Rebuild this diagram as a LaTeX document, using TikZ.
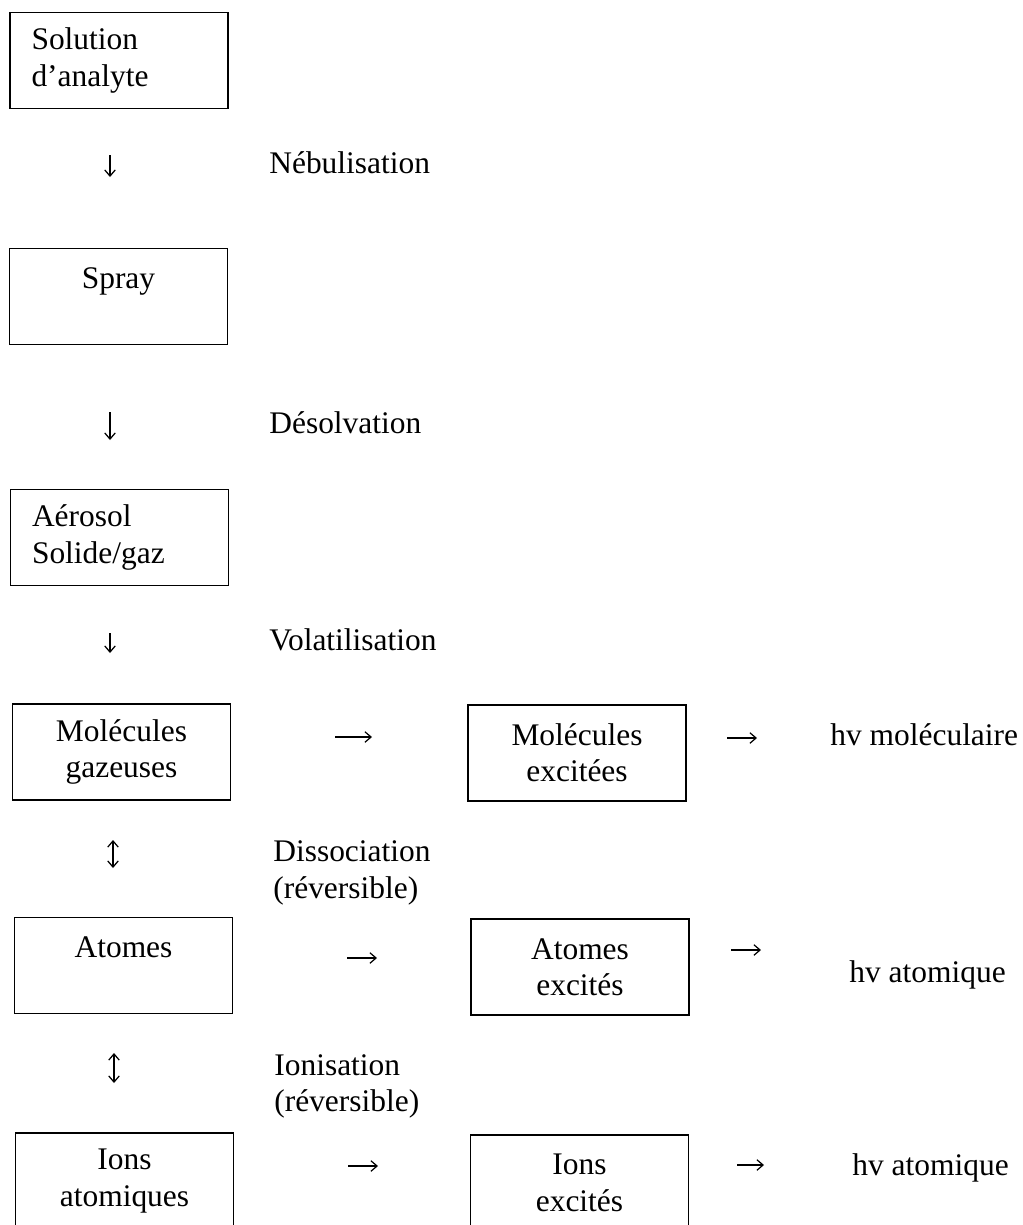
\documentclass[tikz,border=0pt]{standalone}
\usepackage{fontspec}
\setmainfont{Liberation Serif}
\usetikzlibrary{arrows.meta}
\begin{document}
\begin{tikzpicture}[x=0.02cm,y=-0.02cm,
		font=\fontsize{17.9}{20.7}\selectfont,
		boite/.style={draw,line width=0.8pt,minimum width=4.36cm,minimum height=1.92cm,align=center,inner sep=0pt},
		gauche/.style={text width=3.5cm,align=left},
		etape/.style={anchor=base west,inner sep=0pt},
		etape2/.style={anchor=north west,inner sep=0pt,align=left},
		fl/.style={line width=0.7pt,-{Straight Barb[length=3.5pt,width=6pt]}},
		fldb/.style={line width=0.7pt,{Straight Barb[length=3.5pt,width=6pt]}-{Straight Barb[length=3.5pt,width=6pt]}}]
	\useasboundingbox (0,0) rectangle (1023,1225);
	\node [boite,gauche] (sol) at (119,60.5) {Solution\\d'analyte};
	\node [boite] (spray) at (118.5,296.5) {Spray\\\mbox{}};
	\node [boite,gauche] (aero) at (119.5,537.5) {Aérosol\\Solide/gaz};
	\node [boite] (molgaz) at (121.5,752) {Molécules\\gazeuses};
	\node [boite] (molex) at (577,753) {Molécules\\excitées};
	\node [boite] (atom) at (123.5,965.5) {Atomes\\\mbox{}};
	\node [boite] (atomex) at (580,967) {Atomes\\excités};
	\node [boite] (ions) at (124.5,1181) {Ions\\atomiques};
	\node [boite] (ionsex) at (579.5,1183) {Ions\\excités};
	\node [etape] (nebu) at (269,173) {Nébulisation};
	\node [etape] (desol) at (269,433) {Désolvation};
	\node [etape] (vola) at (269,650) {Volatilisation};
	\node [etape2] (disso) at (273,840.5) {Dissociation\\(réversible)};
	\node [etape2] (ionis) at (274,1054) {Ionisation\\(réversible)};
	\node [etape] (hvmol) at (830,745) {hv moléculaire};
	\node [etape] (hvat) at (849,982) {hv atomique};
	\node [etape] (hvion) at (852,1175) {hv atomique};
	\coordinate (d1a) at (110,155); \coordinate (d1b) at (110,177);
	\coordinate (d2a) at (110,412); \coordinate (d2b) at (110,440);
	\coordinate (d3a) at (110,633); \coordinate (d3b) at (110,653);
	\coordinate (u1a) at (113,840); \coordinate (u1b) at (113,868);
	\coordinate (u2a) at (114,1053); \coordinate (u2b) at (114,1083);
	\coordinate (r1a) at (335,737); \coordinate (r1b) at (372,737);
	\coordinate (r2a) at (727,738); \coordinate (r2b) at (757,738);
	\coordinate (r3a) at (347,958); \coordinate (r3b) at (377,958);
	\coordinate (r4a) at (731,950); \coordinate (r4b) at (761,950);
	\coordinate (r5a) at (348,1166); \coordinate (r5b) at (378,1166);
	\coordinate (r6a) at (737,1165); \coordinate (r6b) at (764,1165);
	\draw [fl] (d1a) -- (d1b);
	\draw [fl] (d2a) -- (d2b);
	\draw [fl] (d3a) -- (d3b);
	\draw [fldb] (u1a) -- (u1b);
	\draw [fldb] (u2a) -- (u2b);
	\draw [fl] (r1a) -- (r1b);
	\draw [fl] (r2a) -- (r2b);
	\draw [fl] (r3a) -- (r3b);
	\draw [fl] (r4a) -- (r4b);
	\draw [fl] (r5a) -- (r5b);
	\draw [fl] (r6a) -- (r6b);
\end{tikzpicture}
\end{document}
